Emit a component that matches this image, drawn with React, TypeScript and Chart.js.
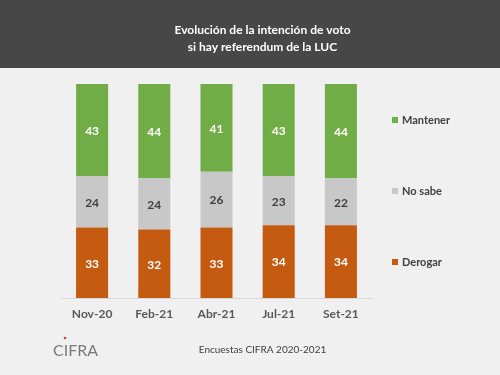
import React, { useEffect, useRef } from "react";
import { Chart, registerables } from "chart.js";

Chart.register(...registerables);

const categories = ["Nov-20", "Feb-21", "Abr-21", "Jul-21", "Set-21"];
const derogar = [33, 32, 33, 34, 34];
const noSabe = [24, 24, 26, 23, 22];
const mantener = [43, 44, 41, 43, 44];
const seriesLabels = ["Derogar", "No sabe", "Mantener"];
const seriesColors = ["#c55a11", "#c8c8c8", "#70ad47"];
const valueLabelColors = ["#ffffff", "#404040", "#ffffff"];
const titleLines = ["Evolución de la intención de voto", "si hay referendum de la LUC"];
const footerText = "Encuestas CIFRA 2020-2021";
const logoText = "CIFRA";

const FONT = "Lato, 'Open Sans', sans-serif";

const decorPlugin = {
  id: "decor",
  beforeDraw(chart: any) {
    const { ctx, width, height } = chart;
    ctx.save();
    ctx.fillStyle = "#f0f0f0";
    ctx.fillRect(0, 0, width, height);
    ctx.fillStyle = "#474747";
    ctx.fillRect(0, 0, width, 68);
    ctx.restore();
  },
  afterDatasetsDraw(chart: any) {
    const { ctx } = chart;
    ctx.save();
    ctx.font = `bold 12px ${FONT}`;
    ctx.textAlign = "center";
    ctx.textBaseline = "middle";
    chart.data.datasets.forEach((ds: any, di: number) => {
      const meta = chart.getDatasetMeta(di);
      meta.data.forEach((bar: any, i: number) => {
        const p = bar.getProps(["x", "y", "base"], true);
        ctx.fillStyle = valueLabelColors[di];
        ctx.fillText(String(ds.data[i]), p.x, (p.y + p.base) / 2 + 1);
      });
    });
    ctx.restore();
  },
  afterDraw(chart: any) {
    const { ctx, chartArea } = chart;
    ctx.save();
    // legend (top to bottom: reversed stacking order)
    const cy = (chartArea.top + chartArea.bottom) / 2;
    const x0 = chartArea.right + 20;
    ctx.font = `bold 11px ${FONT}`;
    ctx.textAlign = "left";
    ctx.textBaseline = "middle";
    const n = chart.data.datasets.length;
    for (let k = 0; k < n; k++) {
      const di = n - 1 - k;
      const y = cy + (k - (n - 1) / 2) * 71;
      ctx.fillStyle = seriesColors[di];
      ctx.fillRect(x0, y - 3, 6, 6);
      ctx.fillStyle = "#404040";
      ctx.fillText(seriesLabels[di], x0 + 10, y);
    }
    // logo
    ctx.font = `16px ${FONT}`;
    ctx.fillStyle = "#7a7a7a";
    ctx.textBaseline = "alphabetic";
    ctx.fillText(logoText, 53, 356);
    ctx.fillStyle = "#d04040";
    ctx.beginPath();
    ctx.arc(65, 338, 1.3, 0, Math.PI * 2);
    ctx.fill();
    ctx.restore();
  },
};

export default function App() {
  const ref = useRef<HTMLCanvasElement | null>(null);
  useEffect(() => {
    if (!ref.current) return;
    const seriesData = [derogar, noSabe, mantener];
    const chart = new Chart(ref.current, {
      type: "bar",
      data: {
        labels: categories,
        datasets: seriesData.map((d, i) => ({
          label: seriesLabels[i],
          data: d,
          backgroundColor: seriesColors[i],
          borderWidth: 0,
          barPercentage: 0.515,
          categoryPercentage: 1,
          yAxisID: "y",
        })),
      },
      options: {
        responsive: false,
        animation: false,
        layout: { padding: { left: 61, right: 36, top: 0, bottom: 0 } },
        plugins: {
          legend: { display: false },
          tooltip: { enabled: false },
          title: {
            display: true,
            text: titleLines,
            color: "#ffffff",
            font: { family: FONT, size: 12, weight: "bold", lineHeight: 1.375 },
            padding: { top: 22.25, bottom: 28.75 },
          },
          subtitle: {
            display: true,
            position: "bottom",
            text: footerText,
            color: "#404040",
            font: { family: FONT, size: 10, weight: "normal", lineHeight: 1.2 },
            padding: { top: 13.6, bottom: 19 },
          },
        },
        scales: {
          x: {
            stacked: true,
            grid: { display: false, drawTicks: false },
            border: { display: true, color: "#dadada", width: 1 },
            ticks: {
              color: "#595959",
              font: { family: FONT, size: 12, weight: "bold" },
              padding: 9,
            },
          },
          y: {
            stacked: true,
            min: 0,
            max: 100,
            display: false,
          },
          yr: {
            type: "linear",
            position: "right",
            display: true,
            grid: { display: false, drawTicks: false },
            border: { display: false },
            ticks: { display: false },
            afterFit: (s: any) => {
              s.width = 92;
            },
          },
        },
      },
      plugins: [decorPlugin],
    } as any);
    return () => chart.destroy();
  }, []);
  return (
    <div style={{ position: "absolute", left: 0, top: 0, width: 500, height: 375 }}>
      <canvas ref={ref} width={500} height={375} />
    </div>
  );
}
